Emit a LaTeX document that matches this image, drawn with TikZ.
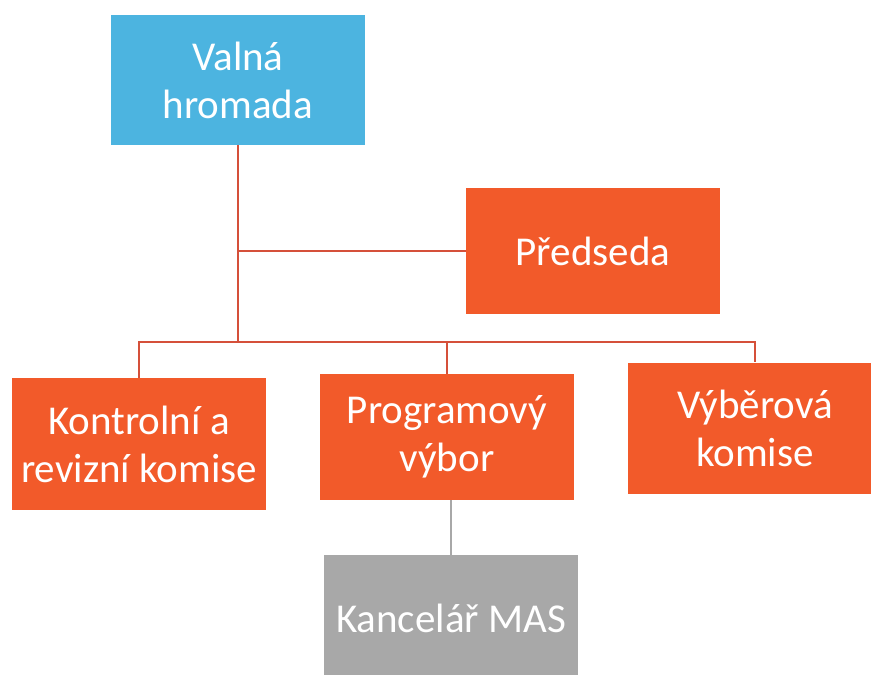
\documentclass[tikz,border=0pt]{standalone}
\usepackage{fontspec}
\setmainfont{Carlito}
\usepackage{xcolor}
\usepackage{tikz}
\definecolor{valnablue}{HTML}{4CB4E0}
\definecolor{organorange}{HTML}{F25A2A}
\definecolor{officegray}{HTML}{A8A8A8}
\definecolor{linkred}{HTML}{D5503A}

\begin{document}
\begin{tikzpicture}[x=1pt,y=-1pt,
	orgbox/.style={minimum width=254pt,minimum height=128pt,inner sep=0pt,
		align=center,text=white,font=\fontsize{41}{48}\selectfont},
	link/.style={linkred,line width=2pt},
	officelink/.style={officegray,line width=1.5pt}]
	% \draw[help lines] (0,0) grid (871,675);
	\useasboundingbox (0,0) rectangle (871,675);
	\fill[white] (0,0) rectangle (871,675);
	\clip (0,0) rectangle (871,675);
	% top
	\node[orgbox,fill=valnablue,minimum height=130pt] (valna) at (238,80) {Valná\\hromada};
	\node[orgbox,fill=organorange,minimum height=126pt] (predseda) at (593,251) {Předseda};
	% committees
	\node[orgbox,fill=organorange,minimum height=132pt] (kontrolni) at (139,444) {Kontrolní a\\revizní komise};
	\node[orgbox,fill=organorange,minimum height=126pt] (program) at (447,437) {Programový\\výbor};
	\node[orgbox,fill=organorange,minimum height=131pt] (vyber) at (755,428) {Výběrová\\komise};
	% office
	\node[orgbox,fill=officegray,minimum height=126pt] (kancelar) at (451,618) {Kancelář MAS};
	% lines
	\coordinate (bus) at (240,342);
	\draw[link] (valna) -- (valna |- bus);
	\draw[link] (valna |- predseda) -- (predseda);
	\draw[link] (kontrolni) |- (bus) -| (vyber);
	\draw[link] (program) -- (program |- bus);
	\draw[officelink] (kancelar |- program.south) -- (kancelar);
\end{tikzpicture}
\end{document}
